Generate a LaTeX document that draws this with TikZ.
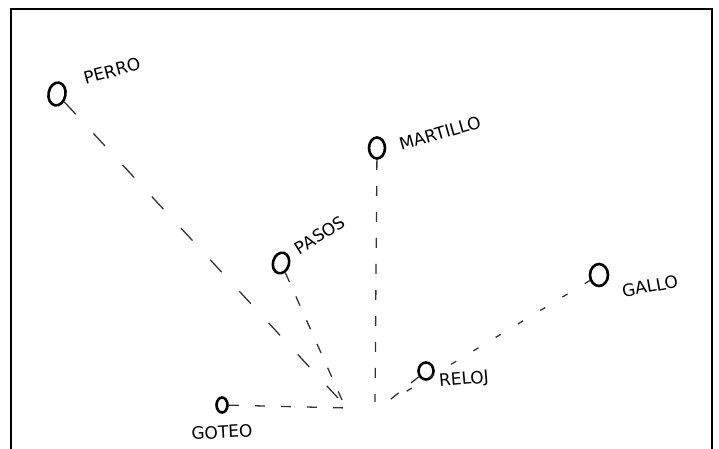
\documentclass[tikz,border=0pt]{standalone}
\usepackage{fontspec}
\setmainfont{DejaVu Sans}
\usetikzlibrary{shapes.geometric}
\begin{document}
\begin{tikzpicture}[x=1pt,y=-1pt,
  src/.style={ellipse,draw,line width=2.6pt,minimum width=16pt,minimum height=21pt,inner sep=0pt},
  lbl/.style={font=\fontsize{17}{17}\selectfont,inner sep=0pt},
  path1/.style={draw=black!80,line width=1.3pt,dash pattern=on 17pt off 26pt},
  path2/.style={draw=black!80,line width=1.3pt,dash pattern=on 10pt off 16pt},
  path3/.style={draw=black!80,line width=1.3pt,dash pattern=on 6pt off 20pt}]
\useasboundingbox (0,0) rectangle (719,449);
\clip (0,0) rectangle (719,449);
\draw[line width=1.5pt] (11,9) rectangle (712,470);
% sources
\node[src,minimum width=17pt,minimum height=23pt,rotate=-10] (perro) at (57,94) {};
\node[src] (martillo) at (377,148) {};
\node[src,rotate=-15] (pasos) at (281,263) {};
\node[src,minimum width=18pt,minimum height=22pt] (gallo) at (599,275) {};
\node[src,minimum width=15pt,minimum height=17pt] (reloj) at (426,371) {};
\node[src,minimum width=11pt,minimum height=15pt] (goteo) at (222,405) {};
% labels
\node[lbl,rotate=15] (tperro) at (112,71) {PERRO};
\node[lbl,rotate=16] (tmartillo) at (440,133) {MARTILLO};
\node[lbl,rotate=32] (tpasos) at (320,235) {PASOS};
\node[lbl,rotate=10] (tgallo) at (650,286) {GALLO};
\node[lbl,rotate=5] (treloj) at (464,380) {RELOJ};
\node[lbl,rotate=3] (tgoteo) at (222,432) {GOTEO};
% end points near the listener
\coordinate (e1) at (338,398);
\coordinate (e2) at (342,400);
\coordinate (e3) at (375,402);
\coordinate (e4) at (392,400);
\coordinate (e5) at (386,403);
\coordinate (e6) at (348,408);
% connectors
\path[path1] (perro) -- (e1);
\path[path2] (pasos) -- (e2);
\path[path2] (martillo) -- (e3);
\path[path3] (gallo) -- (e4);
\path[path2] (reloj) -- (e5);
\path[path2] (goteo) -- (e6);
\end{tikzpicture}
\end{document}
